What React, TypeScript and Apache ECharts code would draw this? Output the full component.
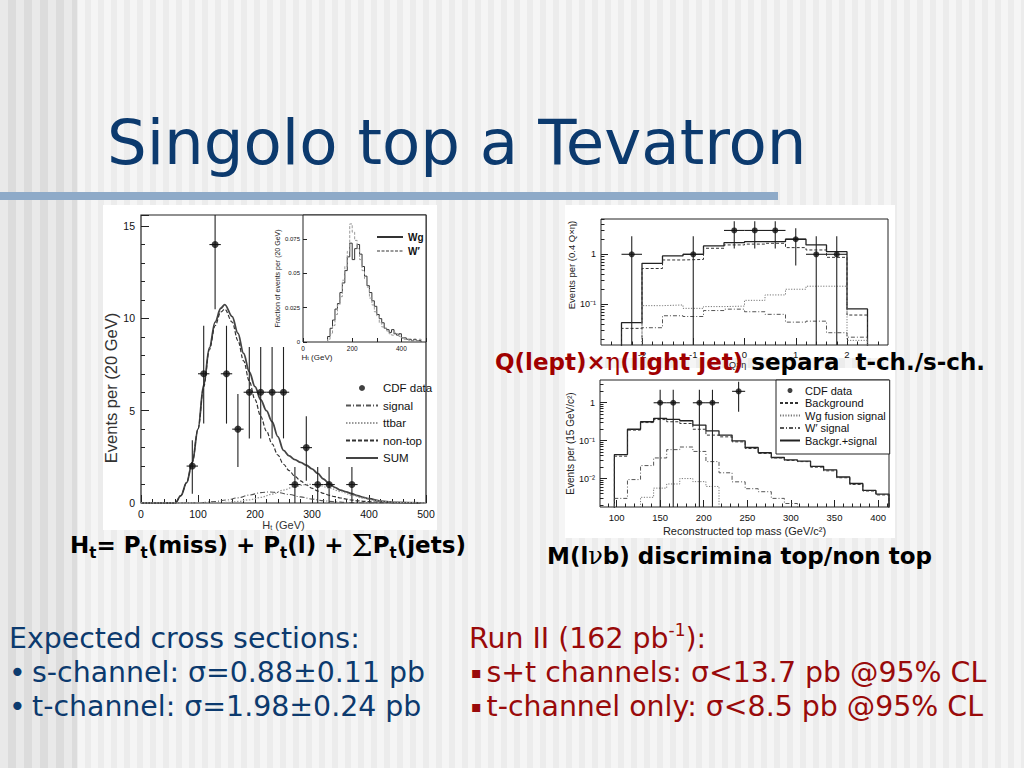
import React, { useEffect, useRef } from "react";
import * as echarts from "echarts";

// ---------- Left plot: H_T distribution ----------
const htPointX = [90, 110, 130, 150, 170, 190, 210, 230, 250, 270, 290, 310, 330, 370];
const htPointY = [2, 7, 14, 7, 4, 6, 6, 6, 6, 1, 3, 1, 1, 1];
const htPointLo = [0.5, 4.3, 10.5, 4.3, 1.95, 3.5, 3.5, 3.5, 3.5, 0, 1.2, 0, 0, 0];
const htPointHi = [3.4, 9.6, 16, 9.6, 5.9, 8.45, 8.45, 8.45, 8.45, 1.95, 4.7, 1.95, 1.95, 1.95];

const curveX = [0, 60, 70, 80, 90, 100, 110, 120, 130, 140, 147, 160, 170, 180, 190, 200, 210, 220, 230, 240, 250, 260, 270, 280, 290, 300, 310, 320, 330, 340, 350, 360, 370, 380, 390, 400, 420, 450, 490];
const sumY = [0, 0, 0.4, 1.1, 2.2, 4.0, 6.4, 8.4, 9.8, 10.55, 10.75, 10.1, 9.2, 8.1, 7.1, 6.3, 5.6, 5.0, 4.4, 3.6, 2.85, 2.55, 2.35, 2.2, 2.05, 1.85, 1.6, 1.3, 1.05, 0.85, 0.7, 0.6, 0.5, 0.4, 0.3, 0.23, 0.1, 0.03, 0];
const nonTopY = [0, 0, 0.4, 1.1, 2.2, 4.0, 6.3, 8.3, 9.6, 10.35, 10.5, 9.8, 8.8, 7.7, 6.6, 5.6, 4.7, 3.9, 3.2, 2.6, 2.1, 1.75, 1.45, 1.2, 0.98, 0.8, 0.65, 0.52, 0.42, 0.34, 0.27, 0.21, 0.16, 0.12, 0.09, 0.07, 0.04, 0.015, 0];
const signalX = [0, 90, 110, 130, 150, 170, 190, 210, 225, 240, 260, 280, 300, 320, 340, 360, 390, 420, 500];
const signalY = [0, 0, 0.03, 0.08, 0.16, 0.28, 0.43, 0.56, 0.6, 0.57, 0.46, 0.33, 0.21, 0.12, 0.06, 0.03, 0.01, 0, 0];
const ttbarX = [0, 130, 150, 170, 190, 210, 230, 250, 270, 290, 300, 310, 330, 350, 370, 390, 410, 430, 460, 500];
const ttbarY = [0, 0, 0.03, 0.08, 0.17, 0.3, 0.48, 0.7, 0.9, 1.0, 1.01, 0.97, 0.82, 0.62, 0.42, 0.26, 0.14, 0.07, 0.02, 0];

// inset: fraction of events per 20 GeV
const insetEdges = [100, 110, 120, 130, 140, 150, 160, 170, 180, 190, 200, 210, 220, 230, 240, 250, 260, 270, 280, 290, 300, 310, 320, 330, 340, 350, 360, 370, 380, 390, 400, 410, 420, 430, 440, 450, 460, 470, 480];
const insetWg = [0.004, 0.010, 0.016, 0.024, 0.028, 0.036, 0.043, 0.052, 0.062, 0.072, 0.060, 0.068, 0.071, 0.064, 0.055, 0.048, 0.041, 0.036, 0.030, 0.026, 0.020, 0.017, 0.014, 0.010, 0.009, 0.007, 0.009, 0.006, 0.005, 0.006, 0.003, 0.003, 0.002, 0.002, 0.001, 0.002, 0.001, 0.001];
const insetWp = [0.002, 0.006, 0.012, 0.020, 0.027, 0.033, 0.045, 0.055, 0.066, 0.086, 0.080, 0.074, 0.068, 0.060, 0.052, 0.046, 0.040, 0.032, 0.027, 0.022, 0.019, 0.014, 0.011, 0.010, 0.008, 0.006, 0.005, 0.007, 0.006, 0.004, 0.003, 0.002, 0.002, 0.001, 0.001, 0.001, 0.001, 0.002];

// ---------- Top-right: Q x eta ----------
const qEdges = [-2.4, -2.0, -1.6, -1.2, -0.8, -0.4, 0, 0.4, 0.8, 1.2, 1.6, 2.0, 2.4];
const qSum = [0.043, 0.66, 0.93, 1.0, 1.47, 1.71, 1.79, 1.79, 2.0, 1.54, 1.13, 0.081];
const qBkg = [0.033, 0.52, 0.77, 0.79, 1.32, 1.54, 1.6, 1.66, 1.36, 1.22, 0.87, 0.061];
const qWg = [0.012, 0.094, 0.097, 0.083, 0.09, 0.092, 0.12, 0.154, 0.2, 0.23, 0.23, 0.019];
const qWp = [0.012, 0.034, 0.059, 0.057, 0.075, 0.08, 0.071, 0.063, 0.044, 0.046, 0.027, 0.022];
const qPointX = [-2.2, -1.0, -0.2, 0.2, 0.6, 1.0, 1.4, 1.8];
const qPointY = [1, 1, 3, 3, 3, 2, 1, 1];
const qPointLo = [0.0001, 0.0001, 1.3, 1.3, 1.3, 0.6, 0.0001, 0.0001];
const qPointHi = [2.3, 2.3, 4.6, 4.6, 4.6, 3.3, 2.3, 2.3];
const qMajorX = [-2, -1, 0, 1, 2];
const qMinorX = [-2.6, -2.4, -2.2, -1.8, -1.6, -1.4, -1.2, -0.8, -0.6, -0.4, -0.2, 0.2, 0.4, 0.6, 0.8, 1.2, 1.4, 1.6, 1.8, 2.2, 2.4, 2.6];
const qMinorY = [0.02, 0.03, 0.04, 0.05, 0.06, 0.07, 0.08, 0.09, 0.2, 0.3, 0.4, 0.5, 0.6, 0.7, 0.8, 0.9, 2, 3, 4, 5];

// ---------- Bottom-right: reconstructed top mass ----------
const mEdges = [97.5, 112.5, 127.5, 142.5, 157.5, 172.5, 187.5, 202.5, 217.5, 232.5, 247.5, 262.5, 277.5, 292.5, 307.5, 322.5, 337.5, 352.5, 367.5, 382.5, 397.5, 412.5];
const mSum = [0.043, 0.2, 0.315, 0.385, 0.363, 0.335, 0.257, 0.182, 0.14, 0.099, 0.066, 0.048, 0.036, 0.031, 0.029, 0.021, 0.017, 0.011, 0.0074, 0.0049, 0.0039];
const mBkg = [0.039, 0.19, 0.3, 0.36, 0.315, 0.284, 0.2, 0.14, 0.126, 0.093, 0.062, 0.046, 0.035, 0.03, 0.028, 0.02, 0.016, 0.0105, 0.007, 0.0047, 0.0037];
const mWg = [0.001, 0.001, 0.0032, 0.0056, 0.0072, 0.01, 0.0083, 0.0062, 0.001, 0.001, 0.001, 0.001, 0.001, 0.001, 0.001, 0.001, 0.001, 0.001, 0.001, 0.001, 0.001];
const mWp = [0.003, 0.0094, 0.022, 0.035, 0.058, 0.068, 0.052, 0.028, 0.0142, 0.0082, 0.0054, 0.0045, 0.003, 0.0022, 0.001, 0.001, 0.001, 0.001, 0.001, 0.001, 0.001];
const mPointX = [150, 165, 195, 210, 240];
const mPointY = [1, 1, 1, 1, 2];
const mPointLo = [0.0001, 0.0001, 0.0001, 0.0001, 0.58];
const mPointHi = [2.2, 2.2, 2.2, 2.2, 3.6];
const mMajorX = [100, 150, 200, 250, 300, 350, 400];
const mMinorX = [90, 110, 120, 130, 140, 160, 170, 180, 190, 210, 220, 230, 240, 260, 270, 280, 290, 310, 320, 330, 340, 360, 370, 380, 390, 410];
const mMinorY = [0.002, 0.003, 0.004, 0.005, 0.006, 0.007, 0.008, 0.009, 0.02, 0.03, 0.04, 0.05, 0.06, 0.07, 0.08, 0.09, 0.2, 0.3, 0.4, 0.5, 0.6, 0.7, 0.8, 0.9, 2, 3, 4];

// ---------- helpers ----------
const lg = (v: number) => Math.log10(Math.max(v, 1e-6));
const lin = (v: number) => v;
const F = "Liberation Sans";
const NAVY = "#0c3a6e";
const RED = "#990a0a";

function stepData(edges: number[], vals: number[], f: (v: number) => number, base: number) {
  const out: number[][] = [[edges[0], base]];
  for (let i = 0; i < vals.length; i++) out.push([edges[i], f(vals[i])]);
  out.push([edges[edges.length - 1], f(vals[vals.length - 1])]);
  out.push([edges[edges.length - 1], base]);
  return out;
}

function zip(xs: number[], ys: number[]) {
  return xs.map((x, i) => [x, ys[i]]);
}

function errSeries(name: string, ax: number, xs: number[], ys: number[], lo: number[], hi: number[], half: number, f: (v: number) => number) {
  return {
    type: "custom",
    name,
    xAxisIndex: ax,
    yAxisIndex: ax,
    clip: true,
    silent: true,
    z: 5,
    data: xs.map((x, i) => [x, f(ys[i]), f(lo[i]), f(hi[i]), x - half, x + half]),
    renderItem: (_p: any, api: any) => {
      const lo2 = api.coord([api.value(0), api.value(2)]);
      const hi2 = api.coord([api.value(0), api.value(3)]);
      const l = api.coord([api.value(4), api.value(1)]);
      const r = api.coord([api.value(5), api.value(1)]);
      const style = { stroke: "#222", lineWidth: 1.1 };
      return {
        type: "group",
        children: [
          { type: "line", shape: { x1: lo2[0], y1: lo2[1], x2: hi2[0], y2: hi2[1] }, style },
          { type: "line", shape: { x1: l[0], y1: l[1], x2: r[0], y2: r[1] }, style },
        ],
      };
    },
  };
}

function lineSeries(name: string, ax: number, data: number[][], color: string, width: number, type: any, step?: boolean) {
  const s: any = {
    type: "line",
    name,
    xAxisIndex: ax,
    yAxisIndex: ax,
    data,
    symbol: "none",
    color,
    itemStyle: { opacity: 0 },
    lineStyle: { color, width, type },
    silent: true,
    z: 3,
  };
  if (step) s.step = "end";
  else {
    s.smooth = 0.35;
    s.smoothMonotone = "x";
  }
  return s;
}

function scatterSeries(name: string, ax: number, xs: number[], ys: number[], f: (v: number) => number, size: number) {
  return {
    type: "scatter",
    name,
    xAxisIndex: ax,
    yAxisIndex: ax,
    data: xs.map((x, i) => [x, f(ys[i])]),
    symbol: "circle",
    symbolSize: size,
    color: "#111",
    itemStyle: { color: "#111" },
    silent: true,
    z: 6,
  };
}

const labelBase = { color: "#111", fontFamily: F };
const tickLine = { color: "#222", width: 1 };
const noLine = { show: false, onZero: false };

function buildOption() {
  const sup = (v: number) => (v === 0 ? "1" : v === -1 ? "10⁻¹" : "10⁻²");
  return {
    animation: false,
    textStyle: { fontFamily: F },
    grid: [
      { left: 141, top: 215, width: 285, height: 288, show: true, borderColor: "#222", borderWidth: 1.2, backgroundColor: "transparent" },
      { left: 303, top: 215, width: 123, height: 127, show: true, borderColor: "#222", borderWidth: 1, backgroundColor: "#fff" },
      { left: 601, top: 219, width: 287, height: 126, show: true, borderColor: "#222", borderWidth: 1, backgroundColor: "transparent" },
      { left: 600, top: 380, width: 289, height: 127, show: true, borderColor: "#222", borderWidth: 1, backgroundColor: "transparent" },
    ],
    xAxis: [
      {
        gridIndex: 0, type: "value", min: 0, max: 500, interval: 100,
        axisLine: noLine, splitLine: { show: false },
        axisTick: { inside: true, length: 8, lineStyle: tickLine },
        minorTick: { show: true, splitNumber: 5, length: 4, lineStyle: tickLine },
        axisLabel: { ...labelBase, fontSize: 10.5, margin: 5 },
        name: "{a|H}{s|t}{a| (GeV)}", nameLocation: "middle", nameGap: 16,
        nameTextStyle: { rich: { a: { fontSize: 11, fontFamily: F, color: "#333" }, s: { fontSize: 7, fontFamily: F, color: "#333", verticalAlign: "bottom" } } },
      },
      {
        gridIndex: 1, type: "value", min: 0, max: 500, interval: 100,
        axisLine: noLine, splitLine: { show: false },
        axisTick: { inside: true, length: 4, lineStyle: tickLine },
        axisLabel: { ...labelBase, fontSize: 6.5, margin: 3, customValues: [0, 200, 400] },
        name: "{a|H}{s|t}{a| (GeV)}", nameLocation: "middle", nameGap: 11,
        nameTextStyle: { padding: [0, 95, 0, 0], rich: { a: { fontSize: 8, fontFamily: F, color: "#222" }, s: { fontSize: 5.5, fontFamily: F, color: "#222", verticalAlign: "bottom" } } },
      },
      {
        gridIndex: 2, type: "value", min: -2.8, max: 2.8,
        axisLine: noLine, splitLine: { show: false },
        axisTick: { inside: true, length: 7, lineStyle: tickLine, customValues: qMajorX },
        axisLabel: { ...labelBase, fontSize: 9.5, margin: 4, customValues: qMajorX },
        name: "Q×η", nameLocation: "middle", nameGap: 15,
        nameTextStyle: { fontSize: 9, color: "#222", padding: [0, 14, 0, 0] },
      },
      {
        gridIndex: 3, type: "value", min: 81, max: 412.5,
        axisLine: noLine, splitLine: { show: false },
        axisTick: { inside: true, length: 7, lineStyle: tickLine, customValues: mMajorX },
        axisLabel: { ...labelBase, fontSize: 9.5, margin: 5, customValues: mMajorX },
        name: "Reconstructed top mass (GeV/c²)", nameLocation: "middle", nameGap: 18,
        nameTextStyle: { fontSize: 11, color: "#222", fontFamily: F },
      },
      {
        gridIndex: 2, type: "value", min: -2.8, max: 2.8, position: "bottom",
        axisLine: noLine, splitLine: { show: false }, axisLabel: { show: false },
        axisTick: { inside: true, length: 3.5, lineStyle: tickLine, customValues: qMinorX },
      },
      {
        gridIndex: 3, type: "value", min: 81, max: 412.5, position: "bottom",
        axisLine: noLine, splitLine: { show: false }, axisLabel: { show: false },
        axisTick: { inside: true, length: 3.5, lineStyle: tickLine, customValues: mMinorX },
      },
    ],
    yAxis: [
      {
        gridIndex: 0, type: "value", min: 0, max: 15.6, interval: 5,
        axisLine: noLine, splitLine: { show: false },
        axisTick: { inside: true, length: 8, lineStyle: tickLine },
        minorTick: { show: true, splitNumber: 5, length: 4, lineStyle: tickLine },
        axisLabel: { ...labelBase, fontSize: 10.5, margin: 6, customValues: [0, 5, 10, 15] },
        name: "Events per (20 GeV)", nameLocation: "middle", nameGap: 17,
        nameTextStyle: { fontSize: 16.5, color: "#333", fontFamily: F, padding: [0, 58, 0, 0] },
      },
      {
        gridIndex: 1, type: "value", min: 0, max: 0.0925,
        axisLine: noLine, splitLine: { show: false },
        axisTick: { inside: true, length: 4, lineStyle: tickLine, customValues: [0, 0.025, 0.05, 0.075] },
        axisLabel: { ...labelBase, fontSize: 6, margin: 3, customValues: [0, 0.025, 0.05, 0.075] },
        name: "Fraction of events per (20 GeV)", nameLocation: "middle", nameGap: 19,
        nameTextStyle: { fontSize: 7, color: "#222", fontFamily: F },
      },
      {
        gridIndex: 2, type: "value", min: -1.814, max: 0.706,
        axisLine: noLine, splitLine: { show: false },
        axisTick: { inside: true, length: 7, lineStyle: tickLine, customValues: [-1, 0] },
        axisLabel: { ...labelBase, fontSize: 9, margin: 5, customValues: [-1, 0], formatter: (v: number) => sup(v) },
        name: "Events per (0.4 Q×η)", nameLocation: "middle", nameGap: 22,
        nameTextStyle: { fontSize: 9.5, color: "#222", fontFamily: F, padding: [0, 0, 0, 34] },
      },
      {
        gridIndex: 3, type: "value", min: -2.75, max: 0.6,
        axisLine: noLine, splitLine: { show: false },
        axisTick: { inside: true, length: 7, lineStyle: tickLine, customValues: [-2, -1, 0] },
        axisLabel: { ...labelBase, fontSize: 9, margin: 5, customValues: [-2, -1, 0], formatter: (v: number) => sup(v) },
        name: "Events per (15 GeV/c²)", nameLocation: "middle", nameGap: 22,
        nameTextStyle: { fontSize: 10, color: "#222", fontFamily: F },
      },
      {
        gridIndex: 2, type: "value", min: -1.814, max: 0.706, position: "left",
        axisLine: noLine, splitLine: { show: false }, axisLabel: { show: false },
        axisTick: { inside: true, length: 3.5, lineStyle: tickLine, customValues: qMinorY.map(lg) },
      },
      {
        gridIndex: 3, type: "value", min: -2.75, max: 0.6, position: "left",
        axisLine: noLine, splitLine: { show: false }, axisLabel: { show: false },
        axisTick: { inside: true, length: 3.5, lineStyle: tickLine, customValues: mMinorY.map(lg) },
      },
    ],
    legend: [
      {
        orient: "vertical", left: 340, top: 377, itemWidth: 32, itemHeight: 6, itemGap: 5.5, selectedMode: false,
        textStyle: { fontSize: 11.5, color: "#111", fontFamily: F },
        data: [
          { name: "CDF data" },
          { name: "signal", itemStyle: { opacity: 0 } },
          { name: "ttbar", itemStyle: { opacity: 0 } },
          { name: "non-top", itemStyle: { opacity: 0 } },
          { name: "SUM", itemStyle: { opacity: 0 } },
        ],
      },
      {
        orient: "vertical", left: 371, top: 227, itemWidth: 26, itemHeight: 6, itemGap: 4, selectedMode: false,
        textStyle: { fontSize: 10, color: "#111", fontFamily: F, fontWeight: "bold" },
        data: [
          { name: "Wg", itemStyle: { opacity: 0 } },
          { name: "W′", itemStyle: { opacity: 0 } },
        ],
      },
      {
        orient: "vertical", left: 776, top: 380, itemWidth: 20, itemHeight: 5, itemGap: 1.5, selectedMode: false,
        padding: [5, 4, 8, 3], borderColor: "#222", borderWidth: 1, backgroundColor: "#fff",
        textStyle: { fontSize: 11, color: "#111", fontFamily: F },
        data: [
          { name: "CDF data" },
          { name: "Background", itemStyle: { opacity: 0 } },
          { name: "Wg fusion signal", itemStyle: { opacity: 0 } },
          { name: "W′ signal", itemStyle: { opacity: 0 } },
          { name: "Backgr.+signal", itemStyle: { opacity: 0 } },
        ],
      },
    ],
    series: [
      // left main
      lineSeries("SUM", 0, zip(curveX, sumY), "#444", 1.8, "solid"),
      lineSeries("non-top", 0, zip(curveX, nonTopY), "#333", 1.2, [4, 2]),
      lineSeries("signal", 0, zip(signalX, signalY), "#555", 1.1, [5, 2, 1, 2]),
      lineSeries("ttbar", 0, zip(ttbarX, ttbarY), "#999", 1.3, [1.5, 1.5]),
      errSeries("ht err", 0, htPointX, htPointY, htPointLo, htPointHi, 10, lin),
      scatterSeries("CDF data", 0, htPointX, htPointY, lin, 7),
      // inset
      lineSeries("Wg", 1, stepData(insetEdges, insetWg, lin, 0), "#333", 1, "solid", true),
      lineSeries("W′", 1, stepData(insetEdges, insetWp, lin, 0), "#999", 1, [3, 1.5], true),
      // top-right
      lineSeries("Q sum", 2, stepData(qEdges, qSum, lg, -2), "#222", 1.3, "solid", true),
      lineSeries("Q bkg", 2, stepData(qEdges, qBkg, lg, -2), "#333", 1, [3, 2], true),
      lineSeries("Q wg", 2, stepData(qEdges, qWg, lg, -2), "#777", 1, [1.2, 1.5], true),
      lineSeries("Q wp", 2, stepData(qEdges, qWp, lg, -2), "#555", 1, [4, 2, 1, 2], true),
      errSeries("q err", 2, qPointX, qPointY, qPointLo, qPointHi, 0.2, lg),
      scatterSeries("Q data", 2, qPointX, qPointY, lg, 6),
      // bottom-right
      lineSeries("Backgr.+signal", 3, stepData(mEdges, mSum, lg, -3), "#222", 1.3, "solid", true),
      lineSeries("Background", 3, stepData(mEdges, mBkg, lg, -3), "#333", 1, [3, 2], true),
      lineSeries("Wg fusion signal", 3, stepData(mEdges, mWg, lg, -3), "#777", 1, [1.2, 1.5], true),
      lineSeries("W′ signal", 3, stepData(mEdges, mWp, lg, -3), "#555", 1, [4, 2, 1, 2], true),
      errSeries("m err", 3, mPointX, mPointY, mPointLo, mPointHi, 7.5, lg),
      scatterSeries("CDF data", 3, mPointX, mPointY, lg, 6),
    ],
    graphic: [
      { type: "rect", z: -10, silent: true, shape: { x: 103, y: 205, width: 334, height: 325 }, style: { fill: "#fff" } },
      { type: "rect", z: -10, silent: true, shape: { x: 565, y: 205, width: 330, height: 153 }, style: { fill: "#fff" } },
      { type: "rect", z: -10, silent: true, shape: { x: 565, y: 368, width: 330, height: 170 }, style: { fill: "#fff" } },
      { type: "rect", z: -10, silent: true, shape: { x: 0, y: 192, width: 778, height: 8 }, style: { fill: "#8eaac8" } },
      {
        type: "text", z: 100, silent: true, x: 107, y: 142,
        style: { text: "Singolo top a Tevatron", fontSize: 62.6, fontFamily: "DejaVu Sans", fill: NAVY, verticalAlign: "middle" },
      },
      {
        type: "text", z: 100, silent: true, x: 70, y: 545,
        style: {
          text: "{m|H}{s|t}{m|= P}{s|t}{m|(miss) + P}{s|t}{m|(l) + }{S|Σ}{m|P}{s|t}{m|(jets)}",
          verticalAlign: "middle",
          rich: {
            m: { fontSize: 23, fontWeight: "bold", fontFamily: "DejaVu Sans", fill: "#000", lineHeight: 30 },
            s: { fontSize: 15, fontWeight: "bold", fontFamily: "DejaVu Sans", fill: "#000", lineHeight: 15, verticalAlign: "bottom" },
            S: { fontSize: 30, fontFamily: "DejaVu Serif", fill: "#000", lineHeight: 30 },
          },
        },
      },
      {
        type: "text", z: 100, silent: true, x: 547, y: 556,
        style: {
          text: "{m|M(l}{g|ν}{m|b) discrimina top/non top}",
          verticalAlign: "middle",
          rich: {
            m: { fontSize: 23, fontWeight: "bold", fontFamily: "DejaVu Sans", fill: "#000", lineHeight: 30 },
            g: { fontSize: 24, fontFamily: "DejaVu Serif", fill: "#000", lineHeight: 30 },
          },
        },
      },
      {
        type: "text", z: 100, silent: true, x: 495, y: 362,
        style: {
          text: "{r|Q(lept)×}{g|η}{r|(light jet)}{k| separa  t-ch./s-ch.}",
          verticalAlign: "middle",
          rich: {
            r: { fontSize: 23, fontWeight: "bold", fontFamily: "DejaVu Sans", fill: "#a00000", lineHeight: 30 },
            g: { fontSize: 24, fontFamily: "DejaVu Serif", fill: "#a00000", lineHeight: 30 },
            k: { fontSize: 23, fontWeight: "bold", fontFamily: "DejaVu Sans", fill: "#000", lineHeight: 30 },
          },
        },
      },
      {
        type: "text", z: 100, silent: true, x: 9, y: 638,
        style: { text: "Expected cross sections:", fontSize: 28.4, fontFamily: "DejaVu Sans", fill: NAVY, verticalAlign: "middle" },
      },
      {
        type: "text", z: 100, silent: true, x: 9, y: 672,
        style: {
          text: "{b|•}{t|s-channel: σ=0.88±0.11 pb}", verticalAlign: "middle",
          rich: {
            b: { fontSize: 28.4, fontFamily: "DejaVu Sans", fill: NAVY, width: 23, lineHeight: 34 },
            t: { fontSize: 28.4, fontFamily: "DejaVu Sans", fill: NAVY, lineHeight: 34 },
          },
        },
      },
      {
        type: "text", z: 100, silent: true, x: 9, y: 706,
        style: {
          text: "{b|•}{t|t-channel: σ=1.98±0.24 pb}", verticalAlign: "middle",
          rich: {
            b: { fontSize: 28.4, fontFamily: "DejaVu Sans", fill: NAVY, width: 23, lineHeight: 34 },
            t: { fontSize: 28.4, fontFamily: "DejaVu Sans", fill: NAVY, lineHeight: 34 },
          },
        },
      },
      {
        type: "text", z: 100, silent: true, x: 469, y: 638,
        style: {
          text: "{t|Run II (162 pb}{p|-1}{t|):}", verticalAlign: "middle",
          rich: {
            t: { fontSize: 28.4, fontFamily: "DejaVu Sans", fill: RED, lineHeight: 34 },
            p: { fontSize: 17, fontFamily: "DejaVu Sans", fill: RED, lineHeight: 20, verticalAlign: "top" },
          },
        },
      },
      {
        type: "text", z: 100, silent: true, x: 471, y: 672,
        style: {
          text: "{b|▪}{t|s+t channels: σ<13.7 pb @95% CL}", verticalAlign: "middle",
          rich: {
            b: { fontSize: 16, fontFamily: "DejaVu Sans", fill: RED, width: 15.5, lineHeight: 34 },
            t: { fontSize: 28.4, fontFamily: "DejaVu Sans", fill: RED, lineHeight: 34 },
          },
        },
      },
      {
        type: "text", z: 100, silent: true, x: 471, y: 706,
        style: {
          text: "{b|▪}{t|t-channel only: σ<8.5 pb @95% CL}", verticalAlign: "middle",
          rich: {
            b: { fontSize: 16, fontFamily: "DejaVu Sans", fill: RED, width: 15.5, lineHeight: 34 },
            t: { fontSize: 28.4, fontFamily: "DejaVu Sans", fill: RED, lineHeight: 34 },
          },
        },
      },
    ],
  };
}

const BG =
  "repeating-linear-gradient(90deg, #e9e9e9 0px, #e9e9e9 8px, #dcdcdc 8px, #dcdcdc 16px) 0 0 / 77px 100% no-repeat, " +
  "repeating-linear-gradient(90deg, #f5f5f5 0px, #f5f5f5 7px, #ececec 7px, #ececec 13px)";

export default function App() {
  const ref = useRef<HTMLDivElement>(null);
  useEffect(() => {
    if (!ref.current) return;
    const chart = echarts.init(ref.current, null, { renderer: "svg" });
    chart.setOption(buildOption() as any);
    return () => chart.dispose();
  }, []);
  return (
    <div
      ref={ref}
      style={{ position: "absolute", left: 0, top: 0, width: 1024, height: 768, background: BG }}
    />
  );
}
